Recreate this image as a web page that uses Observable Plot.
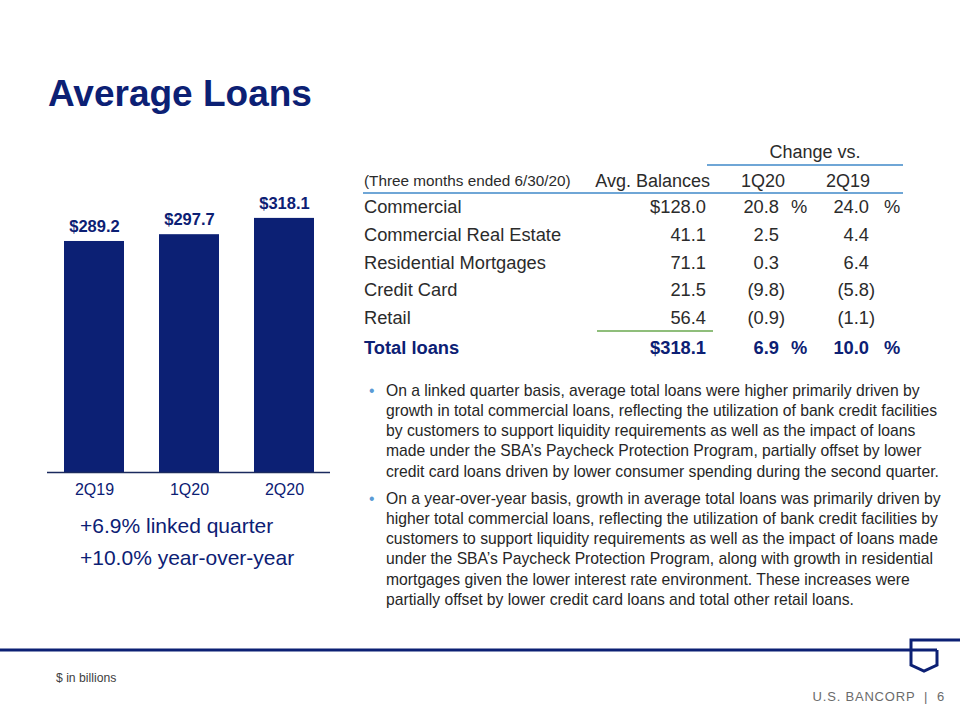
<!DOCTYPE html>
<html><head><meta charset="utf-8">
<script src="https://cdn.jsdelivr.net/npm/d3@7"></script>
<script src="https://cdn.jsdelivr.net/npm/@observablehq/plot@0.6"></script>
<style>
body{margin:0;background:#fff;}
#page{position:relative;width:960px;height:720px;overflow:hidden;font-family:"Liberation Sans",Arial,sans-serif;background:#fff;}
.abs{position:absolute;white-space:pre;line-height:1;}
</style></head><body><div id="page"></div>
<script>
// ---- data ----
const quarters = ["2Q19", "1Q20", "2Q20"];
const avgLoans = [289.2, 297.7, 318.1];
const highlights = ["+6.9% linked quarter", "+10.0% year-over-year"];
const tableHeaders = ["(Three months ended 6/30/20)", "Avg. Balances", "1Q20", "2Q19"];
const changeHeader = "Change vs.";
const tableCategories = ["Commercial", "Commercial Real Estate", "Residential Mortgages", "Credit Card", "Retail", "Total loans"];
const avgBalances = [128.0, 41.1, 71.1, 21.5, 56.4, 318.1];
const changeVs1Q20 = [20.8, 2.5, 0.3, -9.8, -0.9, 6.9];
const changeVs2Q19 = [24.0, 4.4, 6.4, -5.8, -1.1, 10.0];
const bullets = [
  ["On a linked quarter basis, average total loans were higher primarily driven by",
   "growth in total commercial loans, reflecting the utilization of bank credit facilities",
   "by customers to support liquidity requirements as well as the impact of loans",
   "made under the SBA\u2019s Paycheck Protection Program, partially offset by lower",
   "credit card loans driven by lower consumer spending during the second quarter."],
  ["On a year-over-year basis, growth in average total loans was primarily driven by",
   "higher total commercial loans, reflecting the utilization of bank credit facilities by",
   "customers to support liquidity requirements as well as the impact of loans made",
   "under the SBA\u2019s Paycheck Protection Program, along with growth in residential",
   "mortgages given the lower interest rate environment. These increases were",
   "partially offset by lower credit card loans and total other retail loans."]
];
const titleText = "Average Loans";
const unitNote = "$ in billions";
const footerText = "U.S. BANCORP  |  6";

// ---- styles ----
const NAVY = "#0c2074";
const GRAY = "#2b2b2b";
const FONT = '"Liberation Sans", Arial, sans-serif';
const page = document.getElementById("page");

function put(text, {x, y, align = "left", size = 18, weight = "normal", color = GRAY, ls = 0}) {
  const d = document.createElement("div");
  d.className = "abs";
  d.innerHTML = text;
  d.style.fontSize = size + "px";
  d.style.fontWeight = weight;
  d.style.color = color;
  if (ls) d.style.letterSpacing = ls + "px";
  d.style.top = (y - 0.52 * size) + "px";
  if (align === "left") d.style.left = x + "px";
  else if (align === "right") d.style.right = (960 - x) + "px";
  else { d.style.left = x + "px"; d.style.transform = "translateX(-50%)"; }
  page.appendChild(d);
  return d;
}

// title
put(titleText, {x: 48, y: 94, size: 37, weight: "bold", color: NAVY});

// ---- bar chart (Observable Plot) ----
const data = quarters.map((q, i) => ({quarter: q, value: avgLoans[i]}));
const chart = Plot.plot({
  width: 300, height: 330,
  marginLeft: 7, marginRight: 10, marginTop: 20, marginBottom: 38,
  style: {fontFamily: FONT, fontSize: "16px", color: NAVY, background: "transparent", overflow: "visible"},
  x: {domain: quarters, range: [24.3, 274], paddingInner: 0.372, paddingOuter: 0, tickSize: 0, tickPadding: 11, label: null},
  y: {domain: [0, 340], range: [292, 20.4], axis: null},
  marks: [
    Plot.barY(data, {x: "quarter", y: "value", fill: NAVY}),
    Plot.ruleY([0], {stroke: "#1b2a5e", strokeWidth: 1.5}),
    Plot.text(data, {x: "quarter", y: "value", text: d => "$" + d.value.toFixed(1), lineAnchor: "bottom", dy: -9.5, fontSize: 16.5, fontWeight: "bold", fill: NAVY})
  ]
});
chart.style.position = "absolute";
chart.style.left = "40px";
chart.style.top = "180px";
page.appendChild(chart);

// highlights
highlights.forEach((t, i) => put(t, {x: 80, y: 526 + i * 32, size: 21, color: NAVY}));

// ---- table ----
const rowY = [208, 236, 264, 291, 319, 349];
put(changeHeader, {x: 815, y: 152, size: 18, align: "center"});
put(tableHeaders[0], {x: 364, y: 181, size: 15.3});
put(tableHeaders[1], {x: 710, y: 181, size: 18, align: "right"});
put(tableHeaders[2], {x: 763, y: 181, size: 18, align: "center"});
put(tableHeaders[3], {x: 848, y: 181, size: 18, align: "center"});

function fmtChange(v) {
  return v < 0 ? "(" + Math.abs(v).toFixed(1) + '<span style="margin-right:-0.333em">)</span>' : v.toFixed(1);
}
tableCategories.forEach((c, i) => {
  const total = i === tableCategories.length - 1;
  const o = {size: 18.3, weight: total ? "bold" : "normal", color: total ? NAVY : GRAY};
  const y = rowY[i];
  put(c, {...o, x: 364, y});
  const bal = avgBalances[i].toFixed(1);
  put((i === 0 || total ? "$" : "") + bal, {...o, x: 706, y, align: "right"});
  put(fmtChange(changeVs1Q20[i]), {...o, x: 779, y, align: "right"});
  put(fmtChange(changeVs2Q19[i]), {...o, x: 869, y, align: "right"});
  if (i === 0 || total) {
    put("%", {...o, x: 791, y});
    put("%", {...o, x: 884, y});
  }
});

// ---- bullets ----
const bulletTop = [391, 499];
bullets.forEach((lines, b) => {
  put("\u2022", {x: 369, y: bulletTop[b], size: 15.7, color: "#5b9bd5"});
  lines.forEach((ln, k) => put(ln, {x: 386, y: bulletTop[b] + k * 20.2, size: 15.7, color: "#262626"}));
});

// footer
put(unitNote, {x: 56, y: 678, size: 12.2, color: "#404040"});
put(footerText, {x: 945, y: 697, size: 13, color: "#6b6b6b", align: "right", ls: 0.8});

// decorative lines & logo
const ns = "http://www.w3.org/2000/svg";
const deco = document.createElementNS(ns, "svg");
deco.setAttribute("width", 960); deco.setAttribute("height", 720);
deco.style.position = "absolute"; deco.style.left = "0"; deco.style.top = "0"; deco.style.pointerEvents = "none";
deco.innerHTML = `
  <line x1="707" x2="903" y1="165" y2="165" stroke="#6fa6d6" stroke-width="2"/>
  <line x1="363" x2="903" y1="193" y2="193" stroke="#6fa6d6" stroke-width="2"/>
  <line x1="597" x2="713" y1="331" y2="331" stroke="#6aa84f" stroke-width="1.5"/>
  <line x1="0" x2="937" y1="650" y2="650" stroke="${NAVY}" stroke-width="3"/>
  <path d="M960,640 H911 V665 L924,671 L937,665 V650" fill="none" stroke="${NAVY}" stroke-width="3"/>
`;
page.appendChild(deco);
</script>
</body></html>
